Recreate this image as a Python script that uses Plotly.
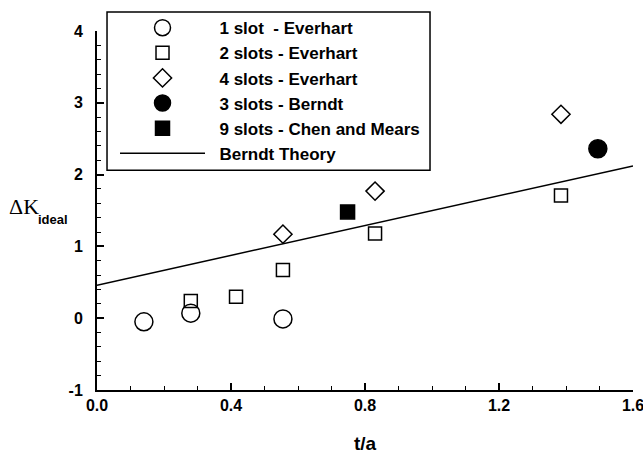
import plotly.graph_objects as go

# Measured points, t/a vs. Delta K_ideal
one_slot_x = [0.14, 0.28, 0.555]
one_slot_y = [-0.05, 0.07, -0.01]

two_slots_x = [0.28, 0.415, 0.555, 0.83, 1.385]
two_slots_y = [0.24, 0.30, 0.67, 1.18, 1.71]

four_slots_x = [0.555, 0.83, 1.385]
four_slots_y = [1.17, 1.77, 2.84]

berndt_x = [1.495]
berndt_y = [2.36]

chen_x = [0.748]
chen_y = [1.48]

theory_x = [0.0, 1.6]
theory_y = [0.46, 2.12]

x_ticks = [0.0, 0.4, 0.8, 1.2, 1.6]
x_tick_text = ["0.0", "0.4", "0.8", "1.2", "1.6"]
y_ticks = [-1, 0, 1, 2, 3, 4]
y_tick_text = ["-1", "0", "1", "2", "3", "4"]

SANS = "Liberation Sans"
BLACK = "#000000"
PAD = "\u00a0\u00a0"  # keeps the legend labels clear of the line sample

fig = go.Figure()

def marker_trace(x, y, name, symbol, size, group):
    return go.Scatter(
        x=x, y=y, mode="markers", name=PAD + name, legendgroup=group,
        marker=dict(symbol=symbol, size=size, color=BLACK,
                    line=dict(color=BLACK, width=1.5)),
    )

fig.add_trace(marker_trace(one_slot_x, one_slot_y, "1 slot\u00a0 - Everhart", "circle-open", 18, "a"))
fig.add_trace(marker_trace(two_slots_x, two_slots_y, "2 slots - Everhart", "square-open", 13, "b"))
fig.add_trace(marker_trace(four_slots_x, four_slots_y, "4 slots - Everhart", "diamond-open", 14, "c"))
fig.add_trace(marker_trace(berndt_x, berndt_y, "3 slots - Berndt", "circle", 18, "d"))
fig.add_trace(marker_trace(chen_x, chen_y, "9 slots - Chen and Mears", "square", 14, "e"))
fig.add_trace(go.Scatter(
    x=theory_x, y=theory_y, mode="lines", name=PAD + "Berndt Theory", legendgroup="f",
    line=dict(color=BLACK, width=1.5),
))

axis_common = dict(
    showgrid=False, zeroline=False, showline=True, linecolor=BLACK, linewidth=2,
    ticks="inside", tickcolor=BLACK, tickwidth=1.5, ticklen=7,
    tickfont=dict(family=SANS, size=16, color=BLACK, weight="bold"),
    ticklabeloverflow="allow", automargin=False,
)

fig.update_xaxes(
    range=[0, 1.6], tickmode="array", tickvals=x_ticks, ticktext=x_tick_text,
    minor=dict(ticks="inside", ticklen=4, dtick=0.1, tickcolor=BLACK, tickwidth=1),
    tickangle=0,
    **axis_common,
)
fig.update_yaxes(
    range=[-1, 4], tickmode="array", tickvals=y_ticks, ticktext=y_tick_text,
    minor=dict(ticks="inside", ticklen=4, dtick=0.2, tickcolor=BLACK, tickwidth=1),
    ticklabelstandoff=9,
    **axis_common,
)

fig.update_layout(
    width=643, height=454,
    margin=dict(l=97, r=10, t=29, b=64),
    paper_bgcolor="white", plot_bgcolor="white",
    showlegend=True,
    legend=dict(
        x=0.0336, y=1.058, xanchor="left", yanchor="top",
        bgcolor="rgba(0,0,0,0)", borderwidth=0,
        font=dict(family=SANS, size=17, color=BLACK, weight="bold"),
        itemwidth=85, tracegroupgap=0, traceorder="grouped",
    ),
    shapes=[dict(
        type="rect", xref="paper", yref="paper",
        x0=0.0187, x1=0.6213, y0=0.6122, y1=1.0526,
        line=dict(color=BLACK, width=1.5), fillcolor="white", layer="below",
    )],
    annotations=[
        dict(text="t/a", xref="x", yref="paper", x=0.8, y=-0.114,
             xanchor="center", yanchor="top", showarrow=False,
             font=dict(family=SANS, size=19, color=BLACK, weight="bold")),
        dict(text="ΔK", xref="paper", yref="y", x=-0.168, y=1.55,
             xanchor="left", yanchor="middle", showarrow=False,
             font=dict(family="Liberation Serif", size=22, color=BLACK)),
        dict(text="ideal", xref="paper", yref="y", x=-0.113, y=1.38,
             xanchor="left", yanchor="middle", showarrow=False,
             font=dict(family=SANS, size=13, color=BLACK, weight="bold")),
    ],
)

fig.write_html("out.html")
